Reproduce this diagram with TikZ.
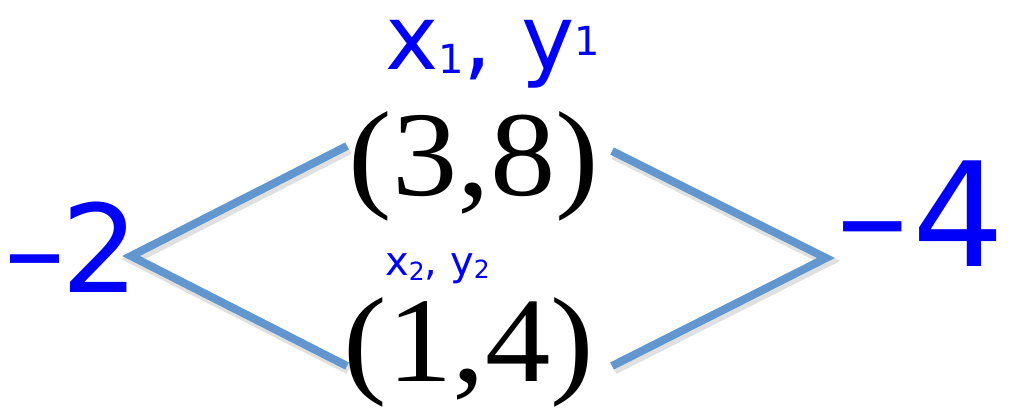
\documentclass[tikz,border=0pt]{standalone}
\usepackage{fontspec}
\newfontfamily\tnr{Liberation Serif}
\newfontfamily\hand{DejaVu Sans}
\definecolor{linkblue}{RGB}{98,150,206}
\definecolor{inkblue}{RGB}{0,0,250}
\begin{document}
\begin{tikzpicture}[x=1pt,y=-1pt,
  pair/.style={inner sep=0pt,anchor=base,font=\tnr\fontsize{121}{121}\selectfont,xscale=1.08},
  link/.style={draw=linkblue,line width=8pt,line join=miter,line cap=butt},
  linkshadow/.style={draw=black,opacity=0.12,line width=11pt,line join=miter},
  ink/.style={inner sep=0pt,anchor=base west,text=inkblue,font=\hand}
]
\useasboundingbox (0,0) rectangle (1012,409);
% pairs
\node[pair] (p1) at (474,195) {(3,8)};
\node[pair] (p2) at (469,381) {(1,4)};
% vertices and line ends
\coordinate (L) at (131,256);
\coordinate (R) at (826,258);
\coordinate (UL) at (347,146);
\coordinate (LL) at (347,366);
\coordinate (UR) at (612,151);
\coordinate (LR) at (612,366);
% shadows
\draw[linkshadow] ([shift={(2,3)}]UL) -- ([shift={(2,3)}]L) -- ([shift={(2,3)}]LL);
\draw[linkshadow] ([shift={(2,3)}]UR) -- ([shift={(2,3)}]R) -- ([shift={(2,3)}]LR);
% connectors
\draw[link] (UL) -- (L) -- (LL);
\draw[link] (UR) -- (R) -- (LR);
% handwritten labels
\node[ink,font=\hand\fontsize{90}{90}\selectfont] (lab1) at (385,70) {x\raisebox{-4pt}{\fontsize{40}{40}\selectfont 1}, y\raisebox{14pt}{\fontsize{40}{40}\selectfont 1}};
\node[ink,font=\hand\fontsize{40}{40}\selectfont] (lab2) at (385,275) {x\raisebox{-5pt}{\fontsize{25}{25}\selectfont 2}, y\raisebox{-3pt}{\fontsize{25}{25}\selectfont 2}};
\node[ink,font=\hand\fontsize{122}{122}\selectfont] (m2) at (4,292) {–\kern-4pt2};
\node[ink,font=\hand\fontsize{145}{145}\selectfont] (m4) at (836,266) {–\kern4pt4};
\end{tikzpicture}
\end{document}
